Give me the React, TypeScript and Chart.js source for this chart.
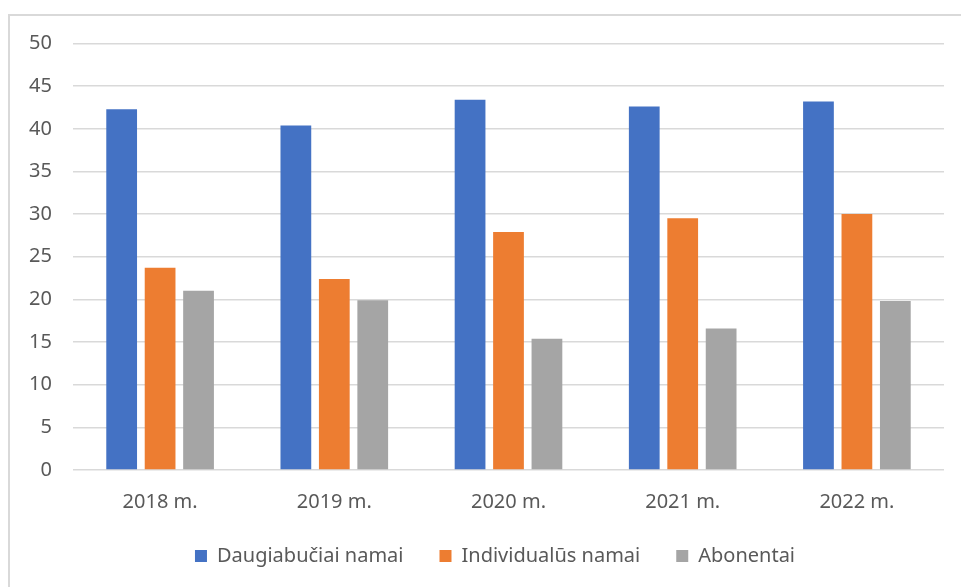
import React, { useEffect, useRef } from "react";
import { Chart, registerables } from "chart.js";

Chart.register(...registerables);

const categories = ["2018 m.", "2019 m.", "2020 m.", "2021 m.", "2022 m."];
const daugiabuciai = [42.3, 40.4, 43.4, 42.6, 43.2];
const individualus = [23.7, 22.4, 27.9, 29.5, 30.0];
const abonentai = [21.0, 19.9, 15.4, 16.6, 19.8];
const seriesNames = ["Daugiabučiai namai", "Individualūs namai", "Abonentai"];
const yMin = 0;
const yMax = 50;
const yStep = 5;

const FONT = "'Noto Sans', 'Open Sans', sans-serif";
const TEXT = "#595959";

const shiftLegend = {
  id: "shiftLegend",
  afterLayout(chart: any) {
    const lg = chart.legend;
    if (lg) {
      lg.left += 18.5;
      lg.right += 18.5;
    }
  },
};

export default function App() {
  const ref = useRef<HTMLCanvasElement | null>(null);

  useEffect(() => {
    if (!ref.current) return;
    const chart = new Chart(ref.current, {
      type: "bar",
      data: {
        labels: categories,
        datasets: [
          { label: seriesNames[0], data: daugiabuciai, backgroundColor: "#4472C4" },
          { label: seriesNames[1], data: individualus, backgroundColor: "#ED7D31" },
          { label: seriesNames[2], data: abonentai, backgroundColor: "#A5A5A5" },
        ],
      },
      plugins: [shiftLegend],
      options: {
        responsive: false,
        animation: false,
        layout: { padding: { left: 9, right: 17, top: 43.5, bottom: 11 } },
        datasets: { bar: { categoryPercentage: 0.662, barPercentage: 0.8 } },
        plugins: {
          tooltip: { enabled: false },
          legend: {
            position: "bottom",
            labels: {
              boxWidth: 12,
              boxHeight: 12,
              padding: 36,
              color: TEXT,
              font: { family: FONT, size: 20 },
            },
          },
        },
        scales: {
          x: {
            grid: { display: false, drawTicks: false },
            border: { display: false },
            ticks: { color: TEXT, font: { family: FONT, size: 20 }, padding: 20 },
            afterFit: (s: any) => {
              s.height = 40;
            },
          },
          y: {
            min: yMin,
            max: yMax,
            ticks: { stepSize: yStep, color: TEXT, font: { family: FONT, size: 20 }, padding: 21 },
            grid: { color: "#D9D9D9", lineWidth: 1.5, drawTicks: false },
            border: { display: false },
            afterFit: (s: any) => {
              s.width = 64;
            },
          },
        },
      },
    });
    return () => chart.destroy();
  }, []);

  return (
    <>
      <div
        style={{
          position: "fixed",
          left: 8,
          top: 14,
          right: 0,
          bottom: 0,
          borderTop: "2px solid #D9D9D9",
          borderLeft: "2px solid #D9D9D9",
          boxSizing: "border-box",
        }}
      />
      <canvas
        ref={ref}
        width={961}
        height={587}
        style={{ position: "fixed", left: 0, top: 0, width: 961, height: 587 }}
      />
    </>
  );
}
